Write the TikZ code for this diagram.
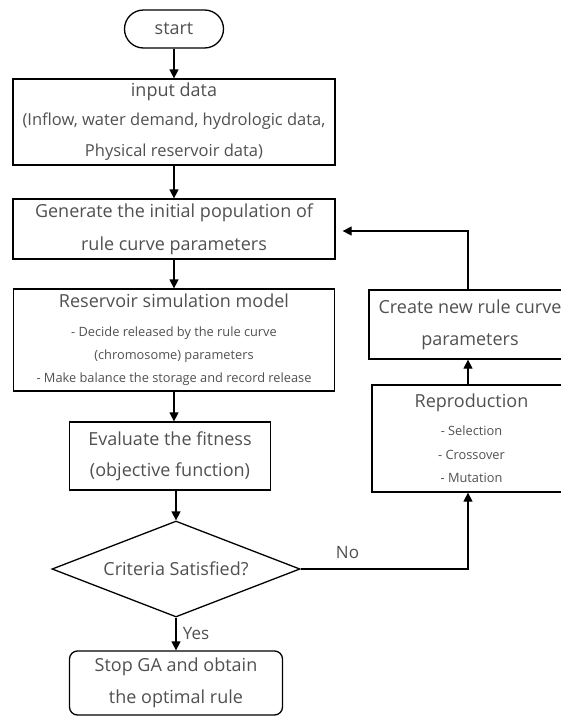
\documentclass[tikz,border=0pt]{standalone}
\usepackage{fontspec}
\setmainfont{Open Sans}
\usetikzlibrary{shapes.geometric,arrows.meta}
\definecolor{txtgray}{HTML}{505050}
\newcommand{\smalltxt}{\fontsize{12.8}{15}\selectfont}
\newcommand{\midtxt}{\fontsize{16.5}{19}\selectfont}

\begin{document}
\begin{tikzpicture}[x=1pt,y=-1pt,
  box/.style={draw, line width=1.3pt, text=txtgray, align=center, inner sep=0pt,
    font=\fontsize{18}{22}\selectfont},
  arr/.style={-{Triangle[length=9pt,width=9pt]}, line width=1.3pt},
  lbl/.style={text=txtgray, font=\fontsize{17}{20}\selectfont}]

  \useasboundingbox (0,0) rectangle (561,718);

  % Main column
  \node[box, rounded corners=19pt, minimum width=99pt, minimum height=38pt] (start) at (174,29) {start};
  \node[box, minimum width=322pt, minimum height=86pt] (input) at (174,122)
    {input data\\[7pt]{\midtxt (Inflow, water demand, hydrologic data,}\\[9pt]{\midtxt Physical reservoir data)}};
  \node[box, minimum width=322pt, minimum height=60pt] (gen) at (174,229)
    {Generate the initial population of\\[11pt]rule curve parameters};
  \node[box, minimum width=321pt, minimum height=102pt] (sim) at (174,340)
    {Reservoir simulation model\\[7pt]{\smalltxt - Decide released by the rule curve}\\[1pt]{\smalltxt (chromosome) parameters}\\[1pt]{\smalltxt - Make balance the storage and record release}};
  \node[box, minimum width=201pt, minimum height=68pt] (eval) at (170,456)
    {Evaluate the fitness\\[9pt](objective function)};
  \node[box, shape=diamond, aspect=2.58, minimum width=248pt, minimum height=96pt] (crit) at (176,569)
    {Criteria Satisfied?};
  \node[box, rounded corners=8pt, minimum width=213pt, minimum height=64pt] (stop) at (176,683)
    {Stop GA and obtain\\[10pt]the optimal rule};

  % Loop column
  \node[box, minimum width=202pt, minimum height=69pt] (create) at (470,324.5)
    {Create new rule curve\\[10pt]parameters};
  \node[box, minimum width=199pt, minimum height=107pt] (repro) at (471.5,438.5)
    {Reproduction\\[6pt]{\smalltxt - Selection}\\[2pt]{\smalltxt - Crossover}\\[1pt]{\smalltxt - Mutation}};

  % Connectors
  \draw[arr] (start) -- (input);
  \draw[arr] (input) -- (gen);
  \draw[arr] (gen) -- (sim);
  \draw[arr] (sim.south) -- (sim.south |- eval.north);
  \draw[arr] (eval.south -| crit.north) -- (crit.north);
  \draw[arr] (crit.south) -- (stop.north) node[lbl, midway, right=3pt] {Yes};

  % No branch and loop back
  \coordinate (turn) at (468,569);
  \coordinate (back) at (468,231);
  \draw[arr] (crit.east) -- (turn) node[lbl, pos=0.28, above=6pt] {No} -- (turn |- repro.south);
  \draw[arr] (turn |- repro.north) -- (turn |- create.south);
  \draw[arr, shorten >=7pt] (turn |- create.north) -- (back) -- (back -| gen.east);

\end{tikzpicture}
\end{document}
